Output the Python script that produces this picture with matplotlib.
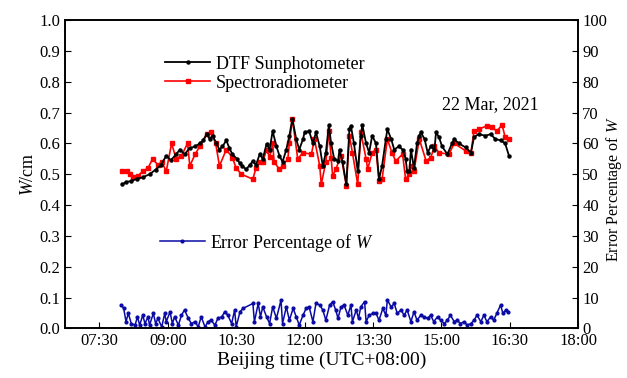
import pandas as pd
import numpy as np
import matplotlib.pyplot as plt
import matplotlib.dates as mdates

plt.rcParams['font.family'] = ['Liberation Serif', 'DejaVu Serif']
plt.rcParams['mathtext.fontset'] = 'custom'
plt.rcParams['mathtext.it'] = 'Liberation Serif:italic'
plt.rcParams['mathtext.rm'] = 'Liberation Serif'

# DTF sunphotometer
dtf_time = ['08:00', '08:05', '08:12', '08:19', '08:27', '08:36', '08:44', '08:51', '08:58', '09:04',
            '09:11', '09:16', '09:22', '09:29', '09:36', '09:42', '09:47', '09:51', '09:55', '09:59',
            '10:04', '10:08', '10:12', '10:17', '10:21', '10:25', '10:31', '10:35', '10:38', '10:43',
            '10:48', '10:52', '10:56', '11:01', '11:05', '11:10', '11:14', '11:18', '11:23', '11:27',
            '11:31', '11:36', '11:40', '11:44', '11:49', '11:53', '11:58', '12:00', '12:06', '12:11',
            '12:15', '12:20', '12:24', '12:28', '12:32', '12:35', '12:39', '12:44', '12:46', '12:50',
            '12:55', '12:59', '13:01', '13:05', '13:10', '13:14', '13:16', '13:21', '13:25', '13:29',
            '13:34', '13:38', '13:42', '13:47', '13:49', '13:54', '13:58', '14:04', '14:09', '14:13',
            '14:15', '14:18', '14:20', '14:24', '14:28', '14:31', '14:33', '14:38', '14:42', '14:46',
            '14:51', '14:53', '14:57', '15:01', '15:08', '15:14', '15:17', '15:23', '15:32', '15:39',
            '15:43', '15:49', '15:58', '16:05', '16:11', '16:18', '16:24', '16:29']
dtf_w = [0.467, 0.475, 0.478, 0.485, 0.49, 0.50, 0.515, 0.53, 0.56, 0.545,
         0.565, 0.58, 0.565, 0.585, 0.59, 0.60, 0.61, 0.63, 0.615, 0.625,
         0.60, 0.58, 0.59, 0.61, 0.585, 0.565, 0.55, 0.535, 0.527, 0.516,
         0.53, 0.543, 0.53, 0.565, 0.55, 0.598, 0.58, 0.64, 0.59, 0.56,
         0.54, 0.58, 0.625, 0.68, 0.614, 0.58, 0.614, 0.636, 0.64, 0.60,
         0.636, 0.59, 0.527, 0.57, 0.66, 0.60, 0.55, 0.543, 0.58, 0.54,
         0.467, 0.646, 0.657, 0.60, 0.51, 0.625, 0.66, 0.60, 0.57, 0.625,
         0.60, 0.484, 0.527, 0.614, 0.646, 0.614, 0.58, 0.59, 0.58, 0.55,
         0.51, 0.51, 0.58, 0.52, 0.60, 0.625, 0.636, 0.614, 0.57, 0.59,
         0.58, 0.636, 0.62, 0.59, 0.565, 0.60, 0.614, 0.60, 0.587, 0.57,
         0.62, 0.63, 0.625, 0.63, 0.614, 0.61, 0.60, 0.56]

# spectroradiometer
spec_time = ['08:00', '08:06', '08:10', '08:14', '08:21', '08:27', '08:34', '08:40', '08:47', '08:52',
             '08:58', '09:05', '09:11', '09:18', '09:26', '09:29', '09:36', '09:42', '09:51', '09:57',
             '10:03', '10:08', '10:17', '10:25', '10:30', '10:37', '10:52', '10:56', '11:01', '11:05',
             '11:10', '11:14', '11:18', '11:20', '11:27', '11:31', '11:38', '11:40', '11:44', '11:51',
             '11:58', '12:09', '12:13', '12:20', '12:22', '12:28', '12:32', '12:35', '12:37', '12:41',
             '12:48', '12:55', '12:59', '13:03', '13:10', '13:14', '13:21', '13:23', '13:29', '13:34',
             '13:38', '13:42', '13:49', '13:55', '14:00', '14:09', '14:13', '14:18', '14:20', '14:24',
             '14:31', '14:40', '14:46', '14:51', '14:57', '15:10', '15:17', '15:32', '15:39', '15:43',
             '15:49', '16:00', '16:07', '16:13', '16:20', '16:24', '16:29']
spec_w = [0.51, 0.51, 0.50, 0.49, 0.495, 0.51, 0.52, 0.55, 0.53, 0.54,
          0.51, 0.60, 0.55, 0.56, 0.60, 0.527, 0.565, 0.59, 0.63, 0.636,
          0.60, 0.527, 0.58, 0.554, 0.52, 0.50, 0.484, 0.52, 0.54, 0.54,
          0.58, 0.555, 0.60, 0.54, 0.516, 0.527, 0.55, 0.60, 0.68, 0.55,
          0.57, 0.565, 0.614, 0.527, 0.467, 0.54, 0.64, 0.554, 0.494, 0.516,
          0.56, 0.462, 0.625, 0.57, 0.467, 0.636, 0.55, 0.516, 0.57, 0.58,
          0.478, 0.484, 0.614, 0.57, 0.543, 0.565, 0.484, 0.50, 0.527, 0.51,
          0.614, 0.543, 0.554, 0.59, 0.57, 0.565, 0.60, 0.576, 0.57, 0.64,
          0.646, 0.657, 0.652, 0.64, 0.66, 0.62, 0.614]

# error percentage (%)
err_time = ['07:59', '08:02', '08:05', '08:08', '08:12', '08:17', '08:20', '08:23', '08:27', '08:30',
            '08:34', '08:36', '08:41', '08:44', '08:47', '08:52', '08:56', '08:58', '09:03', '09:06',
            '09:09', '09:14', '09:18', '09:22', '09:27', '09:31', '09:36', '09:40', '09:44', '09:49',
            '09:53', '09:57', '10:02', '10:06', '10:11', '10:15', '10:19', '10:24', '10:28', '10:30',
            '10:35', '10:39', '10:52', '10:54', '10:59', '11:02', '11:05', '11:10', '11:14', '11:18',
            '11:23', '11:29', '11:31', '11:36', '11:40', '11:45', '11:49', '11:53', '11:58', '12:02',
            '12:06', '12:11', '12:15', '12:20', '12:24', '12:28', '12:33', '12:37', '12:41', '12:44',
            '12:48', '12:52', '12:57', '13:01', '13:03', '13:08', '13:11', '13:14', '13:19', '13:21',
            '13:25', '13:30', '13:34', '13:38', '13:43', '13:47', '13:49', '13:54', '13:58', '14:02',
            '14:07', '14:11', '14:15', '14:20', '14:24', '14:28', '14:33', '14:37', '14:42', '14:46',
            '14:50', '14:55', '14:59', '15:04', '15:08', '15:12', '15:17', '15:21', '15:25', '15:30',
            '15:34', '15:39', '15:43', '15:47', '15:52', '15:56', '16:00', '16:05', '16:09', '16:13',
            '16:18', '16:21', '16:25', '16:28']
err_pct = [7.6, 6.5, 2.2, 4.9, 1.6, 1.1, 3.8, 1.1, 4.3, 1.6,
           3.8, 1.1, 4.9, 1.6, 3.3, 0.5, 4.9, 2.2, 5.4, 1.6,
           3.8, 1.1, 4.3, 6.0, 3.3, 1.6, 2.2, 0.5, 3.8, 0.5,
           2.2, 2.7, 1.1, 3.3, 3.8, 5.4, 4.3, 1.6, 6.0, 0.5,
           5.4, 6.5, 8.1, 2.2, 8.1, 3.8, 7.0, 3.8, 1.6, 7.0,
           3.3, 9.2, 1.6, 7.0, 2.7, 6.5, 3.8, 1.1, 4.3, 6.5,
           7.0, 2.2, 8.1, 7.6, 6.0, 2.7, 7.6, 8.7, 6.0, 3.3,
           7.0, 7.6, 4.3, 7.6, 2.2, 6.0, 3.3, 7.0, 8.7, 2.2,
           4.3, 4.9, 4.9, 2.7, 6.5, 4.3, 9.2, 7.0, 8.1, 4.9,
           6.0, 4.3, 6.0, 2.2, 5.4, 2.7, 4.3, 3.8, 3.3, 4.3,
           2.2, 3.8, 2.7, 1.6, 2.7, 4.3, 2.2, 2.7, 1.6, 2.2,
           1.1, 1.6, 2.7, 4.3, 2.2, 4.3, 2.2, 3.8, 2.7, 4.9,
           7.6, 4.9, 6.0, 5.4]

day = '2021-03-22 '
t_dtf = pd.to_datetime([day + t for t in dtf_time])
t_spec = pd.to_datetime([day + t for t in spec_time])
t_err = pd.to_datetime([day + t for t in err_time])

fig, ax = plt.subplots(figsize=(6.27, 3.78), dpi=100)
fig.subplots_adjust(left=0.104, right=0.922, top=0.947, bottom=0.131)

ax.plot(t_spec, spec_w, color='red', lw=1.2, marker='s', ms=2.8, label='Spectroradiometer')
ax.plot(t_dtf, dtf_w, color='black', lw=1.3, marker='o', ms=2.2, label='DTF Sunphotometer')

ax2 = ax.twinx()
ax2.plot(t_err, err_pct, color='#0a0aa5', lw=1.1, marker='o', ms=2, label='Error Percentage of $\\it{W}$')

ax.set_xlim(pd.Timestamp(day + '06:45'), pd.Timestamp(day + '18:00'))
ax.set_xticks(pd.date_range(day + '07:30', day + '18:00', freq='90min'))
ax.xaxis.set_major_formatter(mdates.DateFormatter('%H:%M'))
ax.set_ylim(0, 1.0)
ax.set_yticks(np.arange(0, 1.01, 0.1))
ax2.set_ylim(0, 100)
ax2.set_yticks(np.arange(0, 101, 10))

ax.tick_params(direction='in', length=4, labelsize=12, top=False)
ax2.tick_params(direction='in', length=4, labelsize=12, pad=3)
for a in (ax, ax2):
    for s in a.spines.values():
        s.set_linewidth(1.2)

ax.set_xlabel('Beijing time (UTC+08:00)', fontsize=14, labelpad=2)
ax.set_ylabel('$\\it{W}$/cm', fontsize=13, labelpad=2)
ax2.set_ylabel('Error Percentage of $\\it{W}$', fontsize=11.5)
ax2.yaxis.set_label_coords(0.963, 0.5, transform=fig.transFigure)

h, l = ax.get_legend_handles_labels()
ax.legend(h[::-1], l[::-1], loc='upper left', bbox_to_anchor=(0.17, 0.925), frameon=False,
          fontsize=13, handlelength=2.5, handletextpad=0.3, labelspacing=0.1, borderpad=0.2)
ax2.legend(loc='upper left', bbox_to_anchor=(0.16, 0.355), frameon=False,
           fontsize=13, handlelength=2.5, handletextpad=0.3, borderpad=0.2)

ax.text(0.735, 0.725, '22 Mar, 2021', transform=ax.transAxes, fontsize=13, va='center')

plt.savefig('out.png')
